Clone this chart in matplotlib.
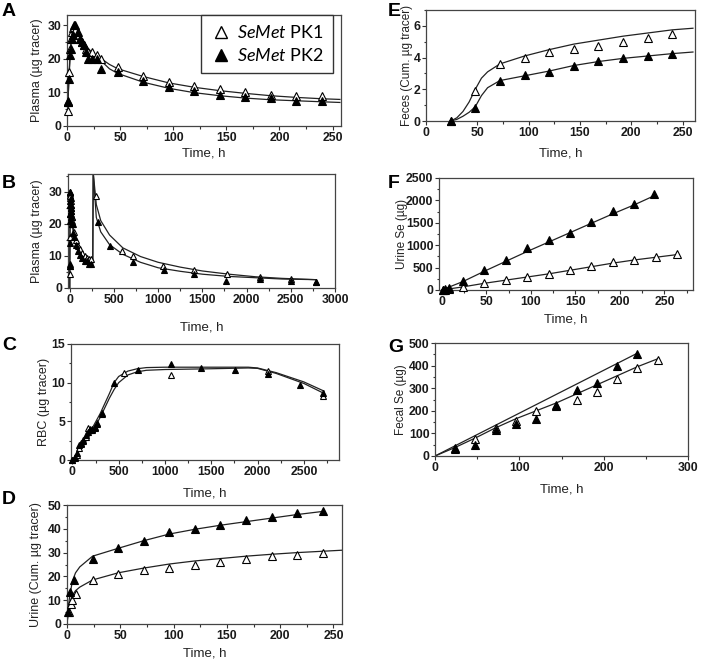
import numpy as np
import matplotlib.pyplot as plt
from matplotlib.lines import Line2D
from matplotlib.ticker import MultipleLocator

plt.rcParams['font.family'] = ['Liberation Sans', 'DejaVu Sans']
plt.rcParams['mathtext.fontset'] = 'custom'
plt.rcParams['mathtext.rm'] = 'Lato'
plt.rcParams['mathtext.it'] = 'Lato:italic'

# ---------------- datos ----------------
# A: plasma, primeros 240 h
tA_pk1 = [0.5, 1, 2, 3, 4, 5, 6, 7, 8, 10, 12, 14, 16, 18, 20, 24, 28, 32, 48, 72, 96, 120, 144, 168, 192, 216, 240]
yA_pk1 = [4.5, 7, 16, 23, 26, 28, 29, 29.5, 28.5, 27, 26, 25, 24, 23, 22, 22, 21, 20, 17.5, 15, 13, 12, 11, 10, 9.3, 9, 9]
tA_pk2 = [0.5, 1, 2, 3, 4, 5, 6, 7, 8, 10, 12, 14, 16, 18, 20, 24, 28, 32, 48, 72, 96, 120, 144, 168, 192, 216, 240]
yA_pk2 = [7, 7.5, 14, 21, 23, 26, 27, 30, 30, 28, 26, 25, 24, 22, 20, 20, 20, 17, 16, 13.5, 11.5, 10.3, 9.2, 8.5, 8.3, 7.5, 7.5]
cA_t = [0, 1, 2, 3, 4, 5, 6, 7, 8, 10, 12, 15, 20, 25, 30, 40, 48, 72, 96, 120, 144, 168, 192, 216, 240, 257]
cA_pk1 = [0, 8, 16, 22, 26, 28, 29, 29.3, 29, 28, 26.5, 25, 23, 21.5, 20.5, 18.3, 17, 14.7, 12.8, 11.5, 10.5, 9.7, 9.0, 8.5, 8.1, 7.9]
cA_pk2 = [0, 8, 15, 21, 25, 27.5, 29, 29.8, 29.5, 28, 26.5, 24.5, 22.5, 21, 20, 17, 15.6, 13, 11.2, 9.9, 9.0, 8.3, 7.8, 7.5, 7.2, 7.0]

# B: plasma, segunda dosis
tB2_pk1 = [300, 590, 720, 1060, 1400, 1780, 2150, 2500, 2780]
yB2_pk1 = [28.5, 11.5, 10, 6.8, 5.5, 4.3, 3.3, 2.7, 2.0]
tB2_pk2 = [315, 450, 710, 1070, 1410, 1770, 2150, 2500, 2780]
yB2_pk2 = [20.5, 13, 8, 5.5, 4.3, 2.2, 2.8, 2.2, 1.8]
cB2_t = [260, 265, 300, 350, 450, 600, 800, 1000, 1250, 1500, 1800, 2100, 2400, 2780]
cB2_pk1 = [7.8, 36, 26, 21, 16.5, 12.5, 9.8, 8, 6.5, 5.3, 4.3, 3.5, 3.0, 2.6]
cB2_pk2 = [7.0, 36, 22, 17.5, 13.5, 10.5, 8, 6.3, 5.2, 4.3, 3.6, 3.2, 2.8, 2.6]

# C: RBC
tC_pk1 = [0, 24, 48, 72, 96, 120, 144, 168, 192, 216, 240, 264, 320, 560, 1060, 2110, 2710]
yC_pk1 = [0, 0.3, 0.7, 1.6, 2.1, 2.4, 3.0, 4.2, 4.0, 3.9, 4.3, 4.7, 6.0, 11.2, 11.0, 11.5, 8.3]
tC_pk2 = [0, 24, 48, 72, 96, 120, 144, 168, 192, 216, 240, 264, 320, 450, 710, 1070, 1390, 1760, 2110, 2460, 2710]
yC_pk2 = [0, 0.4, 0.9, 1.9, 2.2, 2.6, 3.2, 3.6, 3.9, 4.0, 4.2, 4.8, 6.1, 10.0, 11.7, 12.4, 11.9, 11.6, 11.1, 9.7, 8.6]
cC_t = [0, 100, 200, 300, 400, 450, 500, 600, 700, 800, 1000, 1500, 1900, 2000, 2200, 2500, 2720]
cC_pk1 = [0, 1.6, 3.4, 5.5, 8.0, 9.1, 10.0, 11.0, 11.4, 11.6, 11.7, 11.8, 11.9, 11.85, 11.2, 9.9, 8.6]
cC_pk2 = [0, 1.8, 3.8, 6.0, 8.6, 10.0, 10.8, 11.5, 11.8, 11.95, 12.0, 12.0, 12.0, 11.9, 11.3, 10.1, 8.9]

# D: orina acumulada
tD_pk1 = [2, 4, 5, 8, 24, 48, 72, 96, 120, 144, 168, 192, 216, 240]
yD_pk1 = [5, 8.5, 10, 12.5, 18.5, 21, 22.5, 23.5, 25, 26, 27.5, 28.5, 29, 30]
tD_pk2 = [1, 3, 7, 24, 48, 72, 96, 120, 144, 168, 192, 216, 240]
yD_pk2 = [5, 13.5, 18.5, 27.3, 31.8, 35, 38.5, 40, 41.5, 43.5, 45, 46.5, 47.5]
cD_pk1_t = [0, 2, 5, 8, 12, 24, 48, 72, 96, 120, 144, 168, 192, 216, 258]
cD_pk1 = [0, 8, 12, 14, 15.5, 18.5, 21.5, 23.5, 25.2, 26.5, 27.5, 28.5, 29.3, 30, 31]
cD_pk2_t = [0, 2, 5, 8, 12, 24, 48, 72, 96, 120, 144, 168, 192, 216, 240]
cD_pk2 = [0, 10, 18, 21.5, 24, 28.5, 31.8, 35, 37.8, 39.8, 41.5, 43, 44.5, 46, 47.3]

# E: heces acumuladas
tE = [24, 48, 72, 96, 120, 144, 168, 192, 216, 240]
yE_pk1 = [0, 1.9, 3.6, 4.0, 4.35, 4.55, 4.75, 5.0, 5.25, 5.5]
yE_pk2 = [0, 0.8, 2.55, 2.9, 3.1, 3.5, 3.8, 3.95, 4.1, 4.25]
cE_t = [24, 30, 36, 42, 48, 54, 60, 72, 96, 120, 144, 168, 192, 216, 240, 260]
cE_pk1 = [0, 0.2, 0.6, 1.2, 2.0, 2.7, 3.1, 3.6, 4.1, 4.5, 4.85, 5.1, 5.35, 5.55, 5.75, 5.85]
cE_pk2 = [0, 0.1, 0.3, 0.55, 0.9, 1.6, 2.1, 2.55, 2.85, 3.15, 3.5, 3.75, 3.95, 4.1, 4.25, 4.35]

# F: Se urinario
tF_pk1 = [2, 4, 8, 24, 48, 72, 96, 120, 144, 168, 192, 216, 240, 264]
yF_pk1 = [5, 10, 20, 60, 160, 220, 290, 360, 450, 530, 620, 680, 740, 800]
tF_pk2 = [2, 4, 8, 24, 48, 72, 96, 120, 144, 168, 192, 216, 238]
yF_pk2 = [5, 20, 40, 200, 446, 670, 937, 1116, 1270, 1518, 1763, 1920, 2140]
cF_pk1_t = [0, 24, 48, 72, 96, 120, 144, 168, 192, 216, 240, 264]
cF_pk1 = [0, 70, 150, 220, 290, 360, 440, 520, 600, 670, 730, 790]
cF_pk2_t = [0, 24, 48, 72, 96, 120, 144, 168, 192, 216, 238]
cF_pk2 = [0, 190, 420, 640, 860, 1070, 1280, 1490, 1700, 1900, 2100]

# G: Se fecal
tG_pk1 = [24, 48, 72, 96, 120, 144, 168, 192, 216, 240, 264]
yG_pk1 = [30, 75, 125, 155, 200, 225, 250, 285, 340, 390, 425]
tG_pk2 = [24, 48, 72, 96, 120, 144, 168, 192, 216, 240]
yG_pk2 = [35, 50, 115, 140, 165, 220, 290, 325, 400, 450]
cG_pk1_t = [0, 24, 48, 72, 96, 120, 144, 168, 192, 216, 240, 264]
cG_pk1 = [0, 38, 80, 125, 165, 200, 235, 275, 315, 355, 395, 430]
cG_pk2_t = [0, 240]
cG_pk2 = [0, 455]

# ---------------- figura ----------------
W, H = 708, 663
fig = plt.figure(figsize=(W / 100, H / 100), dpi=100)

def caja(l, r, t, b):
    return [l / W, 1 - b / H, (r - l) / W, (b - t) / H]

def panel(pos, letra, letra_xy, ylabel, ylab_x, xlab_d, xlim, ylim, xmaj, xmin, ymaj, ymin, ylsize=9):
    ax = fig.add_axes(caja(*pos))
    ax.set_xlim(*xlim)
    ax.set_ylim(*ylim)
    ax.xaxis.set_major_locator(MultipleLocator(xmaj))
    ax.xaxis.set_minor_locator(MultipleLocator(xmin))
    ax.yaxis.set_major_locator(MultipleLocator(ymaj))
    ax.yaxis.set_minor_locator(MultipleLocator(ymin))
    ax.tick_params(which='both', direction='out', colors='#333333', labelcolor='#1a1a1a',
                   labelsize=8.8, width=0.8, pad=1)
    ax.tick_params(which='major', length=3)
    ax.tick_params(which='minor', length=1.8)
    for lab in ax.get_xticklabels() + ax.get_yticklabels():
        lab.set_fontweight('bold')
    for s in ax.spines.values():
        s.set_color('#444444')
        s.set_linewidth(0.9)
    l, r, t, b = pos
    ax.set_ylabel(ylabel, fontsize=ylsize, color='#222222')
    ax.yaxis.set_label_coords((ylab_x - l) / (r - l), 0.5)
    ax.set_xlabel('Time, h', fontsize=9.5, color='#222222')
    ax.xaxis.set_label_coords(0.5, -xlab_d / (b - t))
    fig.text(letra_xy[0] / W, 1 - letra_xy[1] / H, letra, fontsize=14, fontweight='bold',
             ha='left', va='center')
    return ax

def serie(ax, tc, yc, t, y, relleno, ms=5.5):
    ax.plot(tc, yc, color='#222222', lw=0.9, zorder=2)
    ax.plot(t, y, linestyle='none', marker='^', ms=ms, mec='black', mew=0.8,
            mfc='black' if relleno else 'white', zorder=3, clip_on=False)

# A
axA = panel((67, 341, 15, 126), 'A', (2, 12), 'Plasma (µg tracer)', 43, 21,
            (0, 258), (0, 33), 50, 25, 10, 5)
serie(axA, cA_t, cA_pk1, tA_pk1, yA_pk1, False)
serie(axA, cA_t, cA_pk2, tA_pk2, yA_pk2, True)
h1 = Line2D([], [], linestyle='none', marker='^', ms=9, mfc='white', mec='black', mew=1)
h2 = Line2D([], [], linestyle='none', marker='^', ms=9, mfc='black', mec='black')
leg = axA.legend([h1, h2], [r'$\mathit{SeMet}$ PK1', r'$\mathit{SeMet}$ PK2'],
                 loc='upper right', bbox_to_anchor=(0.97, 1.0), fancybox=False,
                 edgecolor='#333333', framealpha=1, prop={'family': 'Lato', 'size': 13},
                 handletextpad=0.3, borderpad=0.5, labelspacing=0.35, handlelength=1.2,
                 borderaxespad=0)
leg.get_frame().set_linewidth(1.0)

# B
axB = panel((68, 335, 174, 288), 'B', (2, 184), 'Plasma (µg tracer)', 43, 33,
            (-20, 3000), (0, 35.5), 500, 250, 10, 5)
cB_t = cA_t + cB2_t
serie(axB, cB_t, cA_pk1 + cB2_pk1, tA_pk1 + tB2_pk1, yA_pk1 + yB2_pk1, False, ms=5)
serie(axB, cB_t, cA_pk2 + cB2_pk2, tA_pk2 + tB2_pk2, yA_pk2 + yB2_pk2, True, ms=5)

# C
axC = panel((71, 339, 344, 460), 'C', (2, 345), 'RBC (µg tracer)', 50, 27,
            (-15, 2880), (0, 15), 500, 250, 5, 2.5)
serie(axC, cC_t, cC_pk1, tC_pk1, yC_pk1, False, ms=5)
serie(axC, cC_t, cC_pk2, tC_pk2, yC_pk2, True, ms=5)

# D
axD = panel((67, 342, 505, 624), 'D', (2, 500), 'Urine (Cum. µg tracer)', 42, 24,
            (0, 258), (0, 50), 50, 25, 10, 5)
serie(axD, cD_pk1_t, cD_pk1, tD_pk1, yD_pk1, False)
serie(axD, cD_pk2_t, cD_pk2, tD_pk2, yD_pk2, True)

# E
axE = panel((426, 695, 10, 121), 'E', (388, 12), 'Feces (Cum. µg tracer)', 413, 27,
            (0, 262), (0, 7), 50, 25, 2, 1, ylsize=8.5)
serie(axE, cE_t, cE_pk1, tE, yE_pk1, False)
serie(axE, cE_t, cE_pk2, tE, yE_pk2, True)

# F
axF = panel((439, 693, 178, 290), 'F', (388, 183), 'Urine Se (µg)', 408, 23,
            (-3, 282), (0, 2500), 50, 25, 500, 250, ylsize=8.5)
serie(axF, cF_pk1_t, cF_pk1, tF_pk1, yF_pk1, False)
serie(axF, cF_pk2_t, cF_pk2, tF_pk2, yF_pk2, True)

# G
axG = panel((435, 688, 343, 456), 'G', (388, 347), 'Fecal Se (µg)', 407, 27,
            (0, 300), (0, 500), 100, 50, 100, 50, ylsize=8.5)
serie(axG, cG_pk1_t, cG_pk1, tG_pk1, yG_pk1, False)
serie(axG, cG_pk2_t, cG_pk2, tG_pk2, yG_pk2, True)

fig.savefig('out.png', dpi=100)
